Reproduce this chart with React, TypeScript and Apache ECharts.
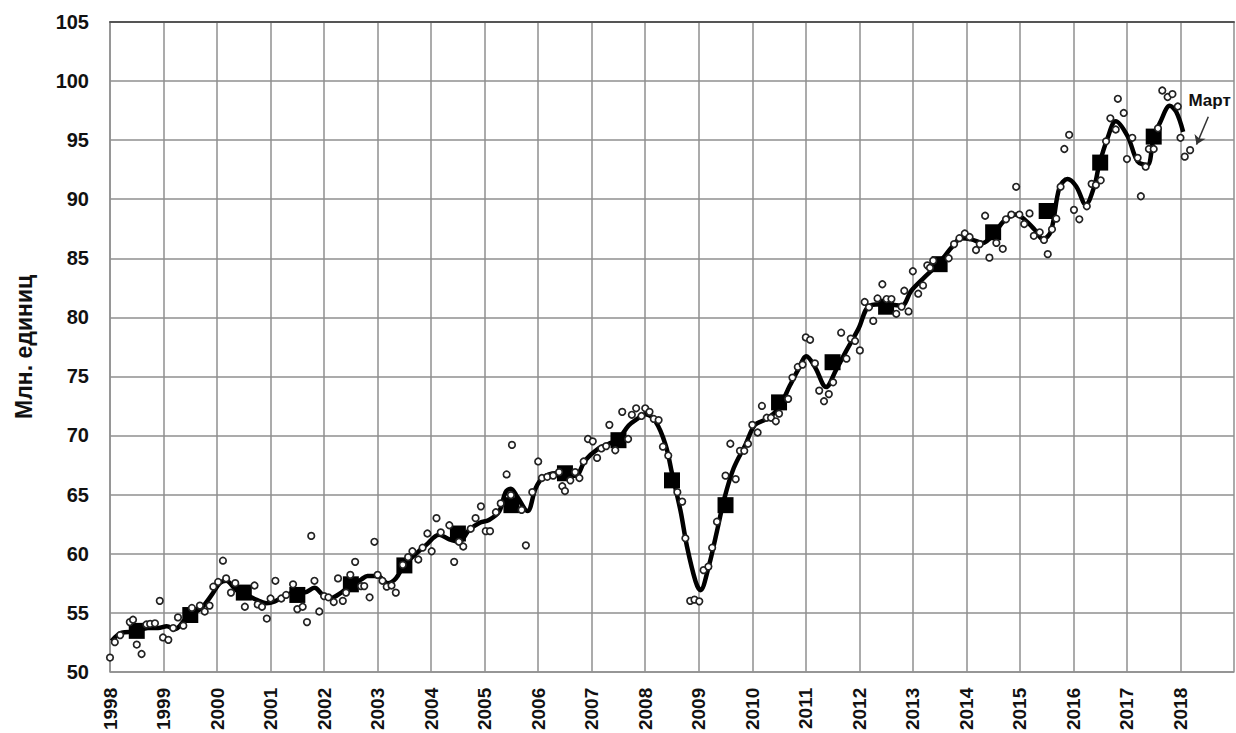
import React, { useEffect, useRef } from 'react';
import * as echarts from 'echarts';

// Monthly observations [year, value], млн. единиц
const monthlyPoints: [number, number][] = [
  [1998.0, 51.2], [1998.09, 52.5], [1998.19, 53.1], [1998.37, 54.2], [1998.43, 54.4], [1998.5, 52.3],
  [1998.59, 51.5], [1998.68, 54.0], [1998.75, 54.05], [1998.84, 54.1], [1998.93, 56.0], [1998.99, 52.9],
  [1999.09, 52.7], [1999.18, 53.7], [1999.27, 54.6], [1999.37, 53.9], [1999.53, 55.4], [1999.68, 55.6],
  [1999.77, 55.1], [1999.86, 55.6], [1999.93, 57.2], [2000.02, 57.6], [2000.11, 59.4], [2000.17, 57.9],
  [2000.26, 56.7], [2000.34, 57.5], [2000.52, 55.5], [2000.7, 57.3], [2000.76, 55.7], [2000.84, 55.5],
  [2000.93, 54.5], [2001.0, 56.2], [2001.09, 57.7], [2001.2, 56.2], [2001.29, 56.5], [2001.42, 57.4],
  [2001.5, 55.3], [2001.6, 55.5], [2001.68, 54.2], [2001.76, 61.5], [2001.82, 57.7], [2001.91, 55.1],
  [2002.0, 56.4], [2002.08, 56.3], [2002.18, 55.9], [2002.26, 57.9], [2002.35, 56.0], [2002.41, 56.7],
  [2002.49, 58.2], [2002.58, 59.3], [2002.69, 57.25], [2002.75, 57.25], [2002.85, 56.3], [2002.94, 61.0],
  [2003.0, 58.2], [2003.09, 57.7], [2003.17, 57.2], [2003.26, 57.3], [2003.34, 56.7], [2003.47, 59.05],
  [2003.57, 59.7], [2003.65, 60.2], [2003.76, 59.5], [2003.84, 60.5], [2003.93, 61.7], [2004.01, 60.2],
  [2004.1, 63.0], [2004.18, 61.8], [2004.34, 62.4], [2004.43, 59.3], [2004.52, 61.0], [2004.6, 60.6],
  [2004.74, 62.1], [2004.83, 63.0], [2004.93, 64.0], [2005.02, 61.9], [2005.1, 61.9], [2005.21, 63.5],
  [2005.3, 64.25], [2005.41, 66.7], [2005.49, 64.95], [2005.51, 69.2], [2005.69, 63.7], [2005.77, 60.7],
  [2005.89, 65.2], [2006.0, 67.8], [2006.07, 66.4], [2006.17, 66.5], [2006.28, 66.6], [2006.39, 66.9],
  [2006.45, 65.7], [2006.5, 65.3], [2006.6, 66.2], [2006.69, 66.9], [2006.77, 66.4], [2006.85, 67.8],
  [2006.93, 69.7], [2007.02, 69.5], [2007.1, 68.1], [2007.18, 68.9], [2007.27, 69.1], [2007.33, 70.9],
  [2007.44, 68.75], [2007.57, 72.0], [2007.68, 69.7], [2007.75, 71.75], [2007.83, 72.3], [2007.93, 71.65],
  [2008.0, 72.3], [2008.08, 72.0], [2008.16, 71.4], [2008.25, 71.3], [2008.33, 69.05], [2008.43, 68.3],
  [2008.6, 65.2], [2008.69, 64.4], [2008.75, 61.3], [2008.84, 56.0], [2008.92, 56.1], [2009.01, 55.96],
  [2009.09, 58.6], [2009.18, 58.9], [2009.25, 60.5], [2009.34, 62.7], [2009.5, 66.6], [2009.59, 69.3],
  [2009.69, 66.3], [2009.77, 68.7], [2009.85, 68.7], [2009.92, 69.3], [2010.0, 70.9], [2010.1, 70.25],
  [2010.18, 72.5], [2010.27, 71.5], [2010.35, 71.5], [2010.44, 71.2], [2010.5, 71.85], [2010.67, 73.1],
  [2010.75, 74.9], [2010.85, 75.8], [2010.94, 76.0], [2011.0, 78.3], [2011.08, 78.1], [2011.17, 76.1],
  [2011.25, 73.8], [2011.34, 72.9], [2011.43, 73.5], [2011.51, 74.5], [2011.66, 78.7], [2011.76, 76.5],
  [2011.84, 78.2], [2011.92, 78.0], [2012.01, 77.2], [2012.1, 81.3], [2012.18, 80.85], [2012.26, 79.7],
  [2012.34, 81.6], [2012.43, 82.8], [2012.51, 81.55], [2012.6, 81.55], [2012.69, 80.3], [2012.79, 80.9],
  [2012.84, 82.25], [2012.92, 80.5], [2013.0, 83.9], [2013.1, 82.0], [2013.19, 82.7], [2013.27, 84.4],
  [2013.32, 84.2], [2013.38, 84.8], [2013.67, 85.0], [2013.77, 86.2], [2013.87, 86.7], [2013.97, 87.1],
  [2014.06, 86.8], [2014.18, 85.7], [2014.25, 86.2], [2014.35, 88.6], [2014.43, 85.05], [2014.56, 86.3],
  [2014.68, 85.8], [2014.74, 88.3], [2014.84, 88.7], [2014.93, 91.05], [2014.99, 88.7], [2015.08, 87.9],
  [2015.18, 88.8], [2015.26, 86.9], [2015.37, 87.2], [2015.45, 86.55], [2015.52, 85.35], [2015.6, 87.45],
  [2015.68, 88.35], [2015.76, 91.05], [2015.83, 94.25], [2015.92, 95.45], [2016.01, 89.1], [2016.11, 88.3],
  [2016.25, 89.4], [2016.34, 91.3], [2016.42, 91.2], [2016.51, 91.6], [2016.61, 94.9], [2016.69, 96.85],
  [2016.79, 95.9], [2016.83, 98.5], [2016.94, 97.3], [2017.0, 93.4], [2017.1, 95.2], [2017.2, 93.5],
  [2017.26, 90.25], [2017.35, 92.75], [2017.41, 94.25], [2017.5, 94.25], [2017.58, 96.0], [2017.66, 99.2],
  [2017.76, 98.65], [2017.85, 98.9], [2017.95, 97.85], [2018.0, 95.2], [2018.08, 93.6], [2018.18, 94.15],
];

// Smoothed trend [year, value]
const trendPoints: [number, number][] = [
  [1998.03, 52.6], [1998.22, 53.3], [1998.47, 53.4], [1998.71, 53.7], [1998.9, 53.7], [1999.06, 53.85],
  [1999.21, 53.6], [1999.4, 54.4], [1999.52, 54.85], [1999.71, 55.4], [1999.9, 56.5], [2000.05, 57.5],
  [2000.17, 57.7], [2000.36, 56.9], [2000.55, 56.5], [2000.73, 56.1], [2000.92, 55.8], [2001.08, 55.95],
  [2001.26, 56.4], [2001.45, 56.7], [2001.63, 56.7], [2001.82, 57.1], [2001.98, 56.5], [2002.13, 56.25],
  [2002.32, 56.7], [2002.5, 57.3], [2002.69, 57.8], [2002.81, 58.1], [2003.0, 58.1], [2003.19, 57.5],
  [2003.34, 57.9], [2003.5, 59.05], [2003.72, 60.0], [2003.9, 60.7], [2004.15, 61.6], [2004.34, 61.2],
  [2004.52, 61.0], [2004.71, 62.0], [2004.9, 62.6], [2005.08, 62.85], [2005.27, 63.55], [2005.39, 65.2],
  [2005.49, 65.5], [2005.61, 64.8], [2005.8, 63.6], [2005.95, 65.5], [2006.08, 66.4], [2006.33, 66.8],
  [2006.51, 66.6], [2006.7, 66.6], [2006.88, 67.9], [2007.13, 68.9], [2007.32, 69.3], [2007.5, 69.7],
  [2007.69, 70.85], [2007.85, 71.4], [2008.0, 71.8], [2008.19, 71.2], [2008.38, 69.2], [2008.5, 66.8],
  [2008.66, 63.6], [2008.78, 60.6], [2008.94, 57.65], [2009.03, 56.9], [2009.18, 58.8], [2009.34, 61.9],
  [2009.48, 64.7], [2009.65, 67.2], [2009.87, 69.2], [2010.05, 70.9], [2010.27, 71.4], [2010.49, 72.3],
  [2010.7, 74.2], [2010.86, 75.6], [2011.01, 76.7], [2011.17, 75.8], [2011.38, 74.1], [2011.57, 75.6],
  [2011.76, 77.2], [2011.98, 79.0], [2012.2, 81.0], [2012.48, 81.1], [2012.79, 81.0], [2012.97, 82.25],
  [2013.22, 83.4], [2013.47, 84.5], [2013.75, 86.05], [2013.9, 86.7], [2014.09, 86.6], [2014.31, 86.3],
  [2014.5, 87.0], [2014.71, 88.2], [2014.93, 88.7], [2015.08, 88.3], [2015.27, 87.45], [2015.43, 86.6],
  [2015.58, 87.3], [2015.74, 91.0], [2015.89, 91.7], [2016.05, 91.1], [2016.23, 89.55], [2016.39, 91.1],
  [2016.48, 92.9], [2016.64, 95.2], [2016.79, 96.6], [2017.01, 95.35], [2017.2, 93.2], [2017.38, 92.9],
  [2017.5, 95.2], [2017.63, 96.6], [2017.8, 97.9], [2017.92, 97.4], [2018.05, 95.7],
];

// Annual averages (mid-year)
const annualPoints: [number, number][] = [
  [1998.5, 53.46], [1999.5, 54.8], [2000.5, 56.7], [2001.5, 56.5], [2002.5, 57.4], [2003.5, 59.0],
  [2004.5, 61.7], [2005.5, 64.1], [2006.5, 66.8], [2007.5, 69.6], [2008.5, 66.2], [2009.5, 64.1],
  [2010.5, 72.8], [2011.5, 76.2], [2012.5, 80.9], [2013.5, 84.5], [2014.5, 87.2], [2015.5, 89.0],
  [2016.5, 93.1], [2017.5, 95.3],
];

const xMin = 1998;
const xMax = 2019;
const xStep = 1;
const yMin = 50;
const yMax = 105;
const yStep = 5;
const yAxisTitle = 'Млн. единиц';
const annotationText = 'Март';
const annotationAnchor: [number, number] = [2018.14, 98.35];
const arrowCoords: [number, number][] = [[2018.52, 96.98], [2018.3, 94.62]];

const FONT = '"Liberation Sans", Arial, sans-serif';
const GRID_COLOR = '#8f8f8f';

export default function App() {
  const ref = useRef<HTMLDivElement>(null);

  useEffect(() => {
    if (!ref.current) return;
    const chart = echarts.init(ref.current, null, { renderer: 'svg' });
    chart.setOption({
      animation: false,
      backgroundColor: '#ffffff',
      textStyle: { fontFamily: FONT },
      grid: { left: 110, right: 2, top: 22, bottom: 59, containLabel: false },
      xAxis: [
        {
          type: 'value',
          min: xMin,
          max: xMax,
          interval: xStep,
          position: 'bottom',
          axisLine: { show: true, lineStyle: { color: GRID_COLOR, width: 1.5 } },
          axisTick: { show: false },
          splitLine: { show: true, lineStyle: { color: GRID_COLOR, width: 1.5 } },
          axisLabel: {
            rotate: 90,
            margin: 16,
            fontSize: 19,
            fontWeight: 'bold',
            color: '#111',
            fontFamily: FONT,
            formatter: (v: number) => (v >= xMax ? '' : String(v)),
          },
        },
        {
          type: 'value',
          min: xMin,
          max: xMax,
          interval: xStep,
          position: 'top',
          axisLine: { show: true, lineStyle: { color: '#555', width: 2 } },
          axisTick: { show: false },
          axisLabel: { show: false },
          splitLine: { show: false },
        },
      ],
      yAxis: {
        type: 'value',
        min: yMin,
        max: yMax,
        interval: yStep,
        name: yAxisTitle,
        nameLocation: 'middle',
        nameRotate: 90,
        nameGap: 75,
        nameTextStyle: { fontSize: 23, fontWeight: 'bold', color: '#111', fontFamily: FONT },
        axisLine: { show: true, lineStyle: { color: GRID_COLOR, width: 1.5 } },
        axisTick: { show: false },
        splitLine: { show: true, lineStyle: { color: GRID_COLOR, width: 1.5 } },
        axisLabel: { margin: 21, fontSize: 20, fontWeight: 'bold', color: '#111', fontFamily: FONT },
      },
      series: [
        {
          type: 'line',
          data: trendPoints,
          smooth: 0.35,
          showSymbol: false,
          lineStyle: { color: '#000', width: 4.5 },
          z: 2,
        },
        {
          type: 'scatter',
          data: annualPoints,
          symbol: 'rect',
          symbolSize: 16,
          itemStyle: { color: '#000', opacity: 1 },
          z: 3,
        },
        {
          type: 'scatter',
          data: monthlyPoints,
          symbol: 'circle',
          symbolSize: 6.5,
          itemStyle: { color: '#fff', borderColor: '#222', borderWidth: 1.7, opacity: 1 },
          z: 4,
        },
        {
          type: 'scatter',
          data: [annotationAnchor],
          symbolSize: 1,
          itemStyle: { color: 'rgba(0,0,0,0)', opacity: 1 },
          label: {
            show: true,
            position: 'right',
            distance: 0,
            formatter: annotationText,
            fontSize: 17,
            fontWeight: 'bold',
            color: '#111',
            fontFamily: FONT,
          },
          z: 5,
        },
        {
          type: 'lines',
          coordinateSystem: 'cartesian2d',
          data: [{ coords: arrowCoords }],
          symbol: ['none', 'arrow'],
          symbolSize: 9,
          lineStyle: { color: '#333', width: 1.5, opacity: 1 },
          z: 5,
        },
      ],
    });
    return () => chart.dispose();
  }, []);

  return (
    <div
      ref={ref}
      style={{ position: 'absolute', left: 0, top: 0, width: 1236, height: 733, background: '#fff' }}
    />
  );
}
